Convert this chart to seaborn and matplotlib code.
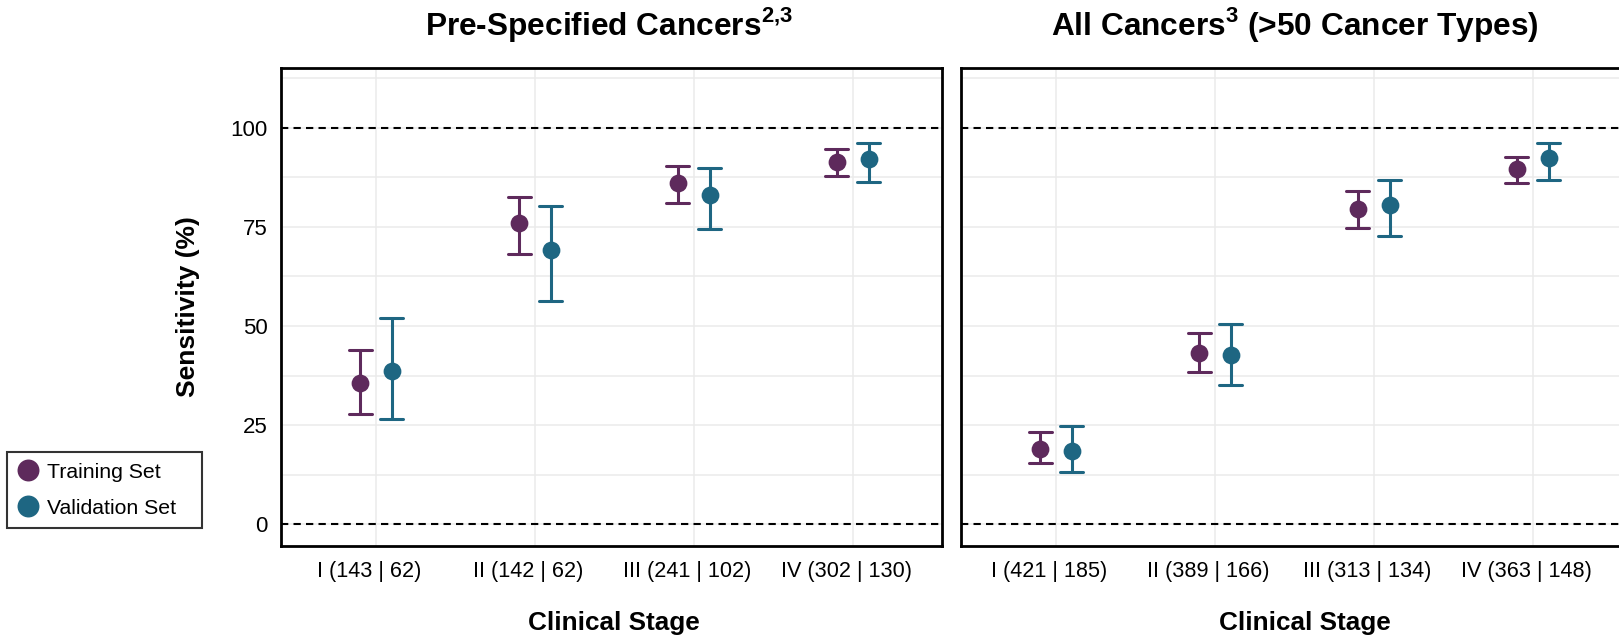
import numpy as np
import pandas as pd
import matplotlib
matplotlib.use("Agg")
import matplotlib.pyplot as plt
import matplotlib.transforms as mtransforms
from matplotlib.lines import Line2D
import seaborn as sns

# ---------------- data ----------------
stages_pre = ["I (143 | 62)", "II (142 | 62)", "III (241 | 102)", "IV (302 | 130)"]
stages_all = ["I (421 | 185)", "II (389 | 166)", "III (313 | 134)", "IV (363 | 148)"]
sets = ["Training Set", "Validation Set"]

pre_train_est = [35.6, 75.9, 86.0, 91.4]
pre_train_lo = [27.7, 68.2, 81.1, 87.9]
pre_train_hi = [43.9, 82.6, 90.4, 94.5]
pre_valid_est = [38.7, 69.2, 83.1, 92.1]
pre_valid_lo = [26.5, 56.2, 74.5, 86.2]
pre_valid_hi = [52.0, 80.2, 89.8, 96.0]

all_train_est = [19.1, 43.2, 79.5, 89.5]
all_train_lo = [15.5, 38.3, 74.7, 86.0]
all_train_hi = [23.3, 48.2, 83.9, 92.6]
all_valid_est = [18.5, 42.8, 80.5, 92.3]
all_valid_lo = [13.2, 35.2, 72.7, 86.9]
all_valid_hi = [24.7, 50.6, 86.8, 96.2]

title_pre = "Pre-Specified Cancers$^{\\mathbf{2{,}3}}$"
title_all = "All Cancers$^{\\mathbf{3}}$ (>50 Cancer Types)"
xlabel = "Clinical Stage"
ylabel = "Sensitivity (%)"
yticks = [0, 25, 50, 75, 100]

colors = {"Training Set": "#5E2A5C", "Validation Set": "#1E6682"}


def make_frame(stages, tr, vl):
    rows = []
    for set_name, (est, lo, hi) in zip(sets, [tr, vl]):
        for st, e, l, h in zip(stages, est, lo, hi):
            for v in (l, e, h):
                rows.append({"stage": st, "set": set_name, "value": v})
    return pd.DataFrame(rows)


df_pre = make_frame(stages_pre, (pre_train_est, pre_train_lo, pre_train_hi),
                    (pre_valid_est, pre_valid_lo, pre_valid_hi))
df_all = make_frame(stages_all, (all_train_est, all_train_lo, all_train_hi),
                    (all_valid_est, all_valid_lo, all_valid_hi))

# ---------------- style ----------------
sns.set_style("white")
plt.rcParams["font.family"] = ["Liberation Sans", "DejaVu Sans"]
plt.rcParams["mathtext.fontset"] = "custom"
plt.rcParams["mathtext.rm"] = "Liberation Sans"
plt.rcParams["mathtext.bf"] = "Liberation Sans:bold"
plt.rcParams["text.color"] = "black"
plt.rcParams["xtick.color"] = "black"
plt.rcParams["ytick.color"] = "black"
plt.rcParams["axes.labelcolor"] = "black"

W, H = 1619, 637
fig = plt.figure(figsize=(W / 100, H / 100), dpi=100)


def px_axes(x0, x1, y_top, y_bot):
    return fig.add_axes([x0 / W, 1 - y_bot / H, (x1 - x0) / W, (y_bot - y_top) / H])


ax1 = px_axes(280.7, 942.3, 67.7, 545.7)
ax2 = px_axes(960.7, 960.7 + 661.6, 67.7, 545.7)

shift = mtransforms.ScaledTranslation(-6.5 / 100, 0, fig.dpi_scale_trans)

for ax, df, stages in [(ax1, df_pre, stages_pre), (ax2, df_all, stages_all)]:
    sns.pointplot(data=df, x="stage", y="value", hue="set", order=stages,
                  hue_order=sets, palette=colors, estimator="median",
                  errorbar=lambda v: (v.min(), v.max()), dodge=0.2,
                  linestyle="none", marker="o", markersize=12.8,
                  markeredgewidth=0, capsize=0.145,
                  err_kws={"linewidth": 2.2}, legend=False, ax=ax, zorder=5)
    ax.set_xlim(0.4 - 1, 4.564 - 1)
    ax.set_ylim(-5.4, 115.1)
    ax.set_yticks(yticks)
    ax.set_yticks([12.5, 37.5, 62.5, 87.5, 112.5], minor=True)
    ax.grid(True, which="major", color="#EBEBEB", linewidth=1.1, zorder=0)
    ax.grid(True, which="minor", axis="y", color="#EBEBEB", linewidth=1.1, zorder=0)
    ax.set_axisbelow(True)
    for yv in (0, 100):
        ax.axhline(yv, color="black", linewidth=1.5, linestyle=(0, (3.5, 2.5)), zorder=2)
    for sp in ax.spines.values():
        sp.set_visible(True)
        sp.set_color("black")
        sp.set_linewidth(2)
    ax.tick_params(axis="both", which="both", length=0)
    ax.tick_params(axis="x", labelsize=15.6, pad=11)
    ax.tick_params(axis="y", labelsize=16, pad=9.5)
    ax.set_xlabel("")
    ax.set_ylabel("")
    for lab in ax.get_xticklabels():
        lab.set_transform(lab.get_transform() + shift)

ax2.set_yticklabels([])

# titles and axis labels
fig.text(609 / W, 1 - 35 / H, title_pre, ha="center", va="baseline",
         fontsize=22.8, fontweight="bold")
fig.text(1295 / W, 1 - 35 / H, title_all, ha="center", va="baseline",
         fontsize=22.8, fontweight="bold")
fig.text(614 / W, 1 - 630 / H, xlabel, ha="center", va="baseline",
         fontsize=18.8, fontweight="bold")
fig.text(1305 / W, 1 - 630 / H, xlabel, ha="center", va="baseline",
         fontsize=18.8, fontweight="bold")
fig.text(187.5 / W, 1 - 307 / H, ylabel, ha="center", va="center",
         rotation=90, fontsize=19, fontweight="bold")

# legend
handles = [Line2D([], [], linestyle="none", marker="o", markersize=15.8,
                  markeredgewidth=0, color=colors[s]) for s in sets]
leg = fig.legend(handles, sets, loc="upper left",
                 bbox_to_anchor=(7 / W, 1 - 527 / H, 195 / W, 75 / H),
                 mode="expand", borderaxespad=0, fontsize=15.3,
                 handlelength=1.0, handletextpad=0.4, borderpad=0.5,
                 labelspacing=0.8, fancybox=False, framealpha=1,
                 edgecolor="#333333")
leg.get_frame().set_linewidth(1.5)

fig.savefig("out.png", dpi=100)
